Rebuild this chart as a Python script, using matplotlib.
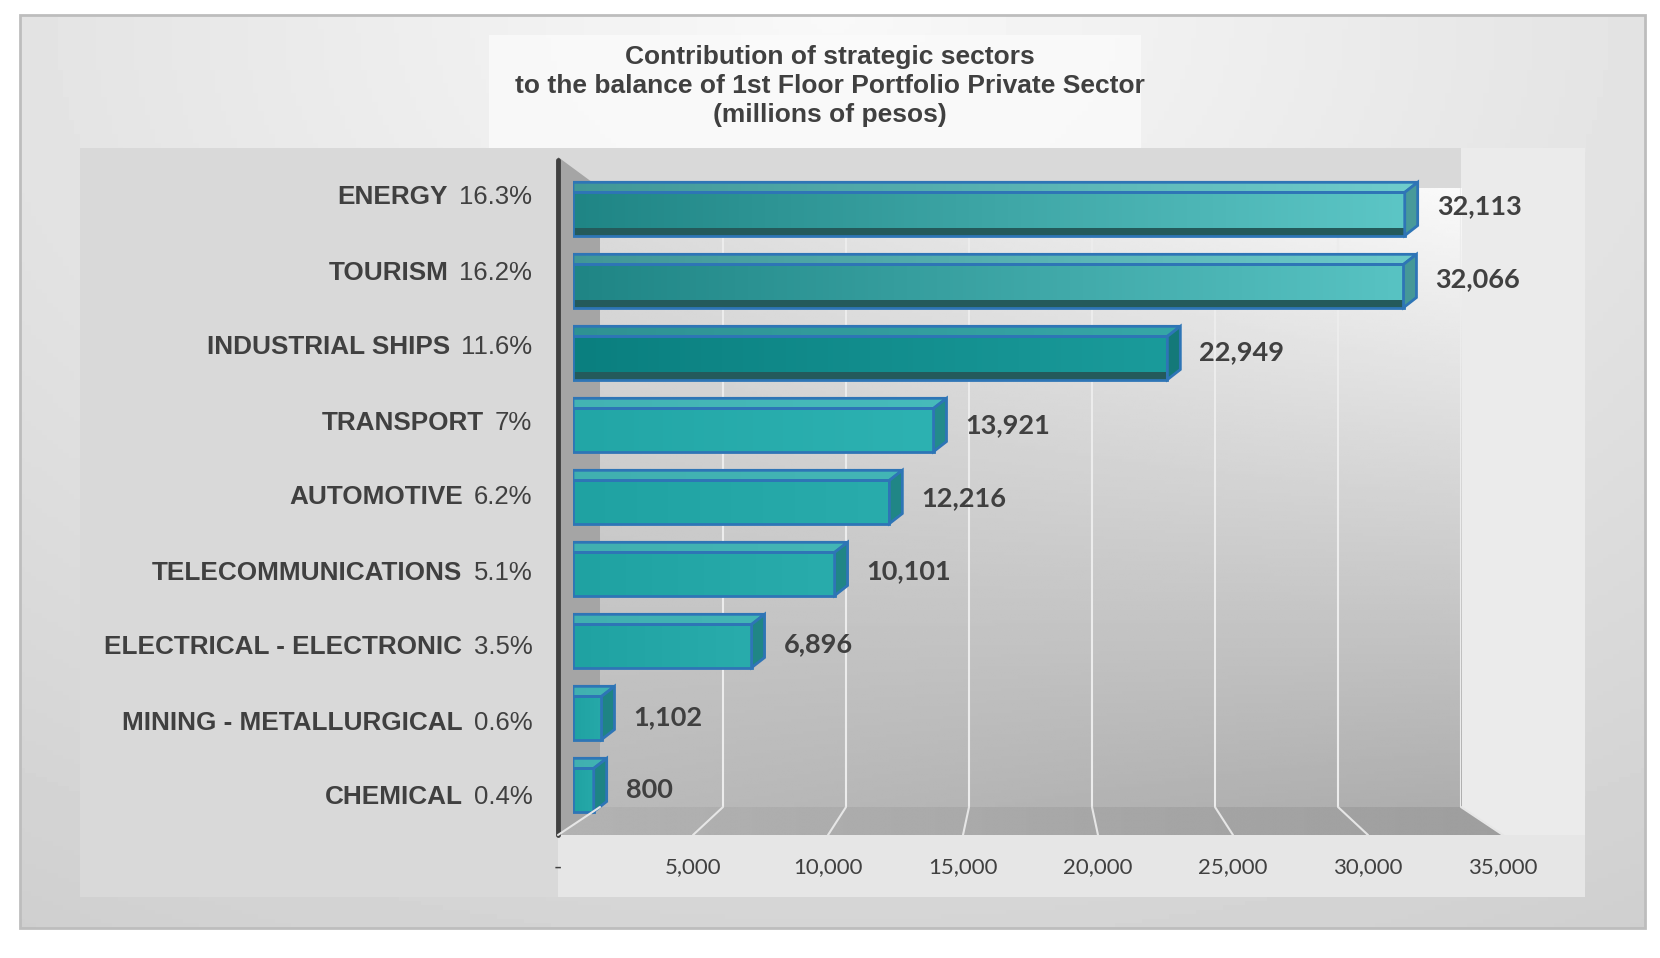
import numpy as np
import matplotlib
matplotlib.use('Agg')
import matplotlib.pyplot as plt
from matplotlib.patches import Polygon, Rectangle, ConnectionPatch
from matplotlib.colors import LinearSegmentedColormap, to_rgb
from matplotlib.transforms import blended_transform_factory

sectors = ['ENERGY', 'TOURISM', 'INDUSTRIAL SHIPS', 'TRANSPORT', 'AUTOMOTIVE',
           'TELECOMMUNICATIONS', 'ELECTRICAL - ELECTRONIC', 'MINING - METALLURGICAL', 'CHEMICAL']
shares = ['16.3%', '16.2%', '11.6%', '7%', '6.2%', '5.1%', '3.5%', '0.6%', '0.4%']
balance = [32113, 32066, 22949, 13921, 12216, 10101, 6896, 1102, 800]
tick_values = [0, 5000, 10000, 15000, 20000, 25000, 30000, 35000]
tick_labels = ['-', '5,000', '10,000', '15,000', '20,000', '25,000', '30,000', '35,000']
title = ('Contribution of strategic sectors\n'
         'to the balance of 1st Floor Portfolio Private Sector\n'
         '(millions of pesos)')

# front face gradient (left, right) and whether the dark bottom edge shows
bar_shades = [('#1f8585', '#5cc6c6'), ('#1f8585', '#58c3c3'), ('#0a7f7f', '#1a9b9b'),
              ('#22a6a6', '#2db2b2'), ('#1fa2a2', '#29acac'), ('#1fa2a2', '#29acac'),
              ('#1fa2a2', '#29acac'), ('#1fa2a2', '#26a9a9'), ('#1fa2a2', '#26a9a9')]
dark_bottom = [True, True, True, False, False, False, False, False, False]

TXT = '#404040'
EDGE = '#2e75b6'
ARIAL = 'Liberation Sans'
CALIBRI = 'Lato'

W, H = 1660, 958
fig = plt.figure(figsize=(W / 100, H / 100), dpi=100)


def box(x0, y0, x1, y1):
    return [x0 / W, 1 - y1 / H, (x1 - x0) / W, (y1 - y0) / H]


def mix(c, other, t):
    a = np.array(to_rgb(c))
    b = np.array(to_rgb(other))
    return tuple(a + (b - a) * t)


# ---- background decoration (pixel coordinates)
bg = fig.add_axes([0, 0, 1, 1])
bg.axis('off')

ny, nx = np.mgrid[0:1:200j, 0:1:300j]
shade = 0.975 - 0.14 * np.sqrt(((nx - 0.5) * 1.2) ** 2 + ny ** 2)
bg.imshow(shade, extent=(20, 1645, 928, 15), cmap='gray', vmin=0, vmax=1, aspect='auto', zorder=0)
bg.add_patch(Rectangle((20, 15), 1625, 913, fill=False, ec='#bdbdbd', lw=2, zorder=1))
bg.add_patch(Rectangle((489, 35), 652, 113, fc='#fbfbfb', ec='none', alpha=0.8, zorder=1))

bg.add_patch(Rectangle((80, 148), 1505, 749, fc='#d9d9d9', ec='none', zorder=1))
bg.add_patch(Rectangle((558, 835), 1027, 62, fc='#e6e6e6', ec='none', zorder=1))
bg.add_patch(Rectangle((1461, 148), 124, 687, fc='#ebebeb', ec='none', zorder=1))

wall_shade = 0.68 + 0.30 * (1 - ny) * (0.45 + 0.55 * nx) + 0.05 * (1 - nx)
bg.imshow(wall_shade, extent=(600, 1461, 807, 188), cmap='gray', vmin=0, vmax=1,
          aspect='auto', zorder=2)
bg.add_patch(Polygon([(558, 157), (600, 188), (600, 807), (558, 835)], fc='#a5a5a5', ec='none', zorder=2))
floor = Polygon([(558, 835), (1503, 835), (1461, 807), (600, 807)], fc='none', ec='none', zorder=2)
bg.add_patch(floor)
floor_img = bg.imshow(0.70 - 0.08 * nx, extent=(558, 1503, 835, 807), cmap='gray', vmin=0, vmax=1,
                      aspect='auto', zorder=2)
floor_img.set_clip_path(floor)
bg.set_xlim(0, W)
bg.set_ylim(H, 0)

bg.text(830, 86, title, ha='center', va='center', fontsize=19, fontweight='bold',
        family=ARIAL, color=TXT, linespacing=1.27, zorder=3)

# ---- back wall grid
wall = fig.add_axes(box(600, 188, 1461, 807))
wall.set_xlim(0, 35000)
wall.set_ylim(0, 1)
wall.axis('off')
wall.vlines(tick_values[1:], 0, 1, colors='#ececec', lw=1.5)

# ---- front plane: value axis, category labels
front = fig.add_axes(box(558, 160, 1503, 835))
front.set_facecolor('none')
front.set_xlim(0, 35000)
front.set_ylim(len(sectors) - 0.5, -0.5)
for s in ['top', 'right', 'bottom']:
    front.spines[s].set_visible(False)
front.spines['left'].set_color(TXT)
front.spines['left'].set_linewidth(3.5)
front.spines['left'].set_capstyle('round')
front.set_yticks([])
front.set_xticks(tick_values)
front.set_xticklabels(tick_labels, fontsize=16, family=CALIBRI, color=TXT)
front.tick_params(axis='x', length=0, pad=16)

for v in tick_values:
    con = ConnectionPatch(xyA=(v, 0), coordsA=blended_transform_factory(wall.transData, wall.transAxes),
                          xyB=(v, 0), coordsB=blended_transform_factory(front.transData, front.transAxes),
                          color='#e6e6e6', lw=1.5)
    fig.add_artist(con)

for i, (name, pct) in enumerate(zip(sectors, shares)):
    t = front.annotate(pct, xy=(0, i), xytext=(-18.5, 0), textcoords='offset points',
                       ha='right', va='center', fontsize=18.5, family=ARIAL, color=TXT,
                       annotation_clip=False)
    front.annotate(name, xy=(0, 0.5), xycoords=t, xytext=(-8, 0), textcoords='offset points',
                   ha='right', va='center', fontsize=18.8, fontweight='bold', family=ARIAL,
                   color=TXT, annotation_clip=False)

# ---- bars (3D boxes)
bars = fig.add_axes(box(573, 178, 1479.5, 826))
bars.set_facecolor('none')
bars.axis('off')

# value labels sit between the bar depth and the front plane
vals = fig.add_axes(box(573, 170, 1479.5, 827))
vals.set_facecolor('none')
vals.axis('off')
vals.set_ylim(len(sectors) - 0.5, -0.5)

h = 0.6
dx = 500
dy = 0.14
grad = np.linspace(0, 1, 256).reshape(1, -1)
for i, v in enumerate(balance):
    c0, c1 = bar_shades[i]
    top = i - h / 2
    bot = i + h / 2
    cm = LinearSegmentedColormap.from_list('b%d' % i, [c0, c1])
    bars.imshow(grad, extent=(0, v, bot, top), cmap=cm, aspect='auto', zorder=2)
    if dark_bottom[i]:
        bars.add_patch(Rectangle((0, bot - 0.11), v, 0.11, fc='#245a5b', ec='none', zorder=3))
    bars.add_patch(Rectangle((0, top), v, h, fill=False, ec=EDGE, lw=2, zorder=4))

    lid = Polygon([(0, top), (v, top), (v + dx, top - dy), (0, top - dy)], fc='none', ec=EDGE, lw=2, zorder=4)
    bars.add_patch(lid)
    cm_lid = LinearSegmentedColormap.from_list('l%d' % i, [mix(c0, 'white', 0.15), mix(c1, 'white', 0.12)])
    lid_img = bars.imshow(grad, extent=(0, v + dx, top, top - dy), cmap=cm_lid, aspect='auto', zorder=3)
    lid_img.set_clip_path(lid)

    bars.add_patch(Polygon([(v, top), (v + dx, top - dy), (v + dx, bot - dy), (v, bot)],
                           fc=mix(c1, 'black', 0.22), ec=EDGE, lw=2, zorder=4))
    bars.annotate(f'{v:,}', xy=(v, i), xycoords=(bars.transData, vals.transData),
                  xytext=(23, 0), textcoords='offset points',
                  ha='left', va='center', fontsize=19.5, fontweight='bold', family=CALIBRI,
                  color=TXT, annotation_clip=False)

bars.set_xlim(0, 35000)
bars.set_ylim(len(sectors) - 0.5, -0.5)

fig.savefig('out.png', dpi=100)
